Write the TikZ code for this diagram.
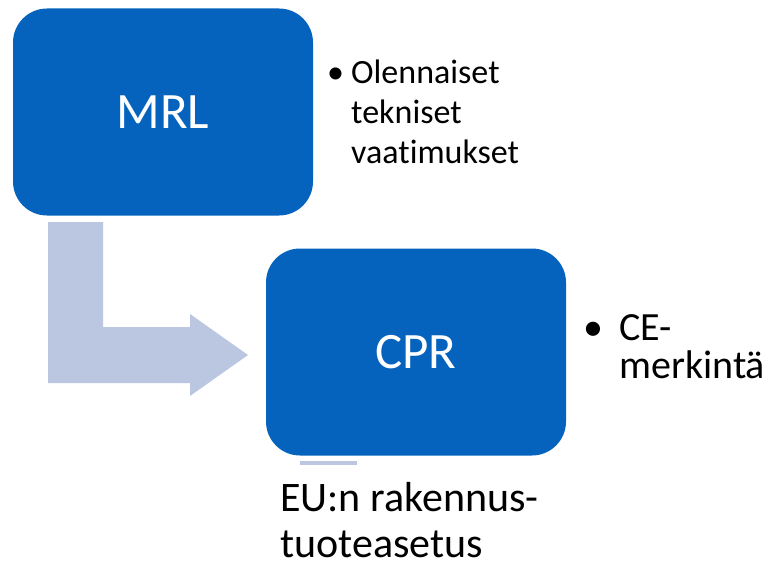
\documentclass[tikz,border=0pt]{standalone}
\usepackage{fontspec}
\setmainfont{Carlito}[Ligatures=CommonOff]
\definecolor{boxblue}{RGB}{5,99,190}
\definecolor{arrowblue}{RGB}{187,198,225}
\begin{document}
\begin{tikzpicture}[x=1pt,y=-1pt,
  bluebox/.style={fill=boxblue,draw=none,rounded corners=34pt,inner sep=0pt,
    minimum width=300pt,minimum height=207pt,text=white,
    font=\fontsize{51}{60}\selectfont},
  listtext/.style={anchor=base west,inner sep=0pt,align=left,text=black},
  bigarrow/.style={fill=arrowblue,draw=none}]
\useasboundingbox (0,0) rectangle (776,567);
% bent arrow
\coordinate (a1) at (48,222);
\fill[arrowblue] (a1) -- (103,222) -- (103,327) -- (190,327) -- (190,314)
  -- (248,355) -- (190,396) -- (190,383) -- (48,383) -- cycle;
\node[bluebox] (mrl) at (163,112) {MRL};
\node[bluebox] (cpr) at (416,352) {CPR};
\fill[arrowblue] (300,461) rectangle (357,465);
% bullet lists
\node[listtext,font=\fontsize{34}{39.5}\selectfont] (b1) at (327,84) {•};
\node[listtext,font=\fontsize{34}{39.5}\selectfont] (t1) at (351,163) {Olennaiset\\tekniset\\vaatimukset};
\node[listtext,font=\fontsize{40}{38}\selectfont] (b2) at (583,340) {•};
\node[listtext,font=\fontsize{40}{38}\selectfont] (t2) at (619,378) {CE-\\merkintä};
\node[listtext,font=\fontsize{42}{46}\selectfont] (t3) at (280,557) {EU:n rakennus-\\tuoteasetus};
\end{tikzpicture}
\end{document}
